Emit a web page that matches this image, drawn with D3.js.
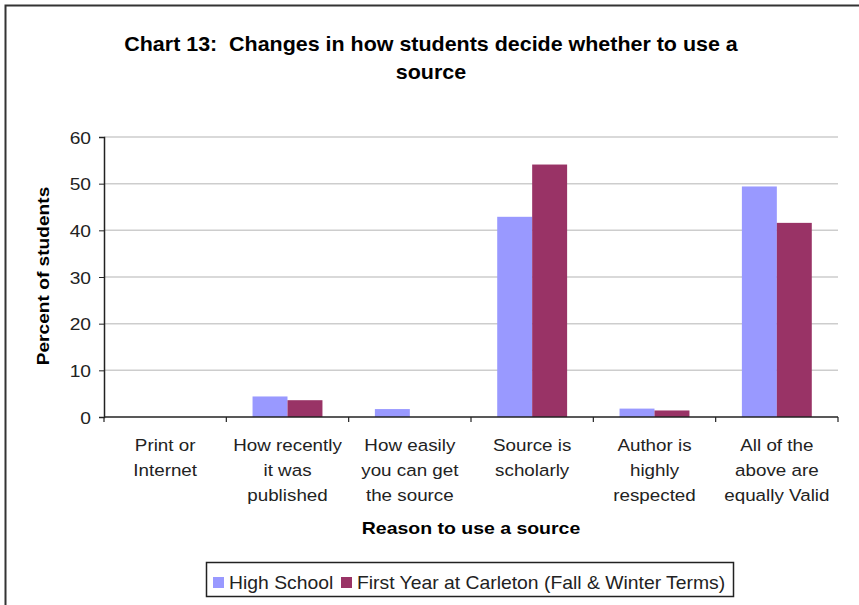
<!DOCTYPE html>
<html>
<head>
<meta charset="utf-8">
<script src="https://cdn.jsdelivr.net/npm/d3@7"></script>
<style>
  html, body { margin: 0; padding: 0; background: #fff; }
  svg { display: block; font-family: "Liberation Sans", Arial, sans-serif; }
  text { white-space: pre; }
</style>
</head>
<body>
<svg id="chart" width="859" height="605"></svg>
<script>
// Reasons for choosing a source (each split over lines)
const categories = [
  ["Print or", "Internet"],
  ["How recently", "it was", "published"],
  ["How easily", "you can get", "the source"],
  ["Source is", "scholarly"],
  ["Author is", "highly", "respected"],
  ["All of the", "above are", "equally Valid"]
];
const seriesNames = ["High School", "First Year at Carleton (Fall & Winter Terms)"];
const highSchool = [0, 4.4, 1.7, 42.9, 1.8, 49.4];
const firstYear  = [0, 3.6, 0, 54.1, 1.4, 41.6];
const yTicks = [0, 10, 20, 30, 40, 50, 60];
const colors = ["#9999FF", "#993366"];

const svg = d3.select("#chart");
const plot = { left: 104, right: 838, top: 137, bottom: 417 };

// Text drawn with a slight horizontal widening, one tspan per line
function wideText(parent, tx, ty, sx, lines, opts) {
  const g = parent.append("g").attr("transform", `translate(${tx},${ty})${opts.rotate ? " rotate(" + opts.rotate + ")" : ""} scale(${sx},1)`);
  const t = g.append("text")
    .attr("text-anchor", opts.anchor || "middle")
    .attr("font-size", opts.size)
    .attr("font-weight", opts.bold ? "bold" : "normal")
    .attr("fill", opts.fill || "#222");
  lines.forEach((line, k) => {
    t.append("tspan").attr("x", 0).attr("y", k * (opts.lineHeight || 0)).text(line);
  });
  return g;
}

// frame edges (top and left)
svg.append("path")
  .attr("d", "M5.5,605 L5.5,5.5 L859,5.5")
  .attr("fill", "none").attr("stroke", "#333").attr("stroke-width", 2);

// title
wideText(svg, 431, 51, 1.1, ["Chart 13:  Changes in how students decide whether to use a", "source"],
  { size: 19.5, bold: true, fill: "#000", lineHeight: 28 });

const idx = d3.range(categories.length);
const x = d3.scaleBand().domain(idx).range([plot.left, plot.right]).paddingInner(0).paddingOuter(0);
const barW = x.bandwidth() / 3.5;
const y = d3.scaleLinear().domain([0, 60]).range([plot.bottom, plot.top]);

// gridlines
svg.append("g").selectAll("line").data(yTicks.filter(t => t > 0)).join("line")
  .attr("x1", plot.left).attr("x2", plot.right)
  .attr("y1", d => y(d)).attr("y2", d => y(d))
  .attr("stroke", "#cdcdcd").attr("stroke-width", 1.5);

// bars
const series = [highSchool, firstYear];
series.forEach((vals, s) => {
  svg.append("g").selectAll("rect").data(idx).join("rect")
    .attr("x", i => x(i) + barW * 0.75 + s * barW)
    .attr("width", barW)
    .attr("y", i => y(vals[i]))
    .attr("height", i => y(0) - y(vals[i]))
    .attr("fill", colors[s]);
});

// y axis
const yAxis = svg.append("g").attr("transform", `translate(${plot.left},0)`)
  .call(d3.axisLeft(y).tickValues(yTicks).tickSize(5).tickPadding(6));
yAxis.select(".domain").attr("stroke", "#222").attr("stroke-width", 1.5);
yAxis.selectAll(".tick line").attr("stroke", "#222");
yAxis.selectAll(".tick text").remove();
yAxis.selectAll(".tick").each(function(d) {
  wideText(d3.select(this), -13, 6, 1.2, [String(d)], { size: 16, anchor: "end" });
});

// x axis with ticks at category boundaries
const xAxisG = svg.append("g");
xAxisG.append("line")
  .attr("x1", plot.left).attr("x2", plot.right)
  .attr("y1", y(0)).attr("y2", y(0))
  .attr("stroke", "#222").attr("stroke-width", 1.5);
xAxisG.selectAll("line.tick").data(d3.range(categories.length + 1)).join("line")
  .attr("class", "tick")
  .attr("x1", i => plot.left + i * x.step()).attr("x2", i => plot.left + i * x.step())
  .attr("y1", y(0)).attr("y2", y(0) + 5)
  .attr("stroke", "#222").attr("stroke-width", 1.2);

// category labels
idx.forEach(i => {
  wideText(svg, x(i) + x.bandwidth() / 2, 451, 1.14, categories[i], { size: 16.5, lineHeight: 25 });
});

// axis titles
wideText(svg, 471, 534, 1.18, ["Reason to use a source"], { size: 16.5, bold: true, fill: "#000" });
wideText(svg, 49, (plot.top + plot.bottom) / 2 - 1, 1.16, ["Percent of students"],
  { size: 16.5, bold: true, fill: "#000", rotate: -90 });

// legend
const legend = svg.append("g");
legend.append("rect").attr("x", 206.5).attr("y", 562.5).attr("width", 527).attr("height", 34)
  .attr("fill", "#fff").attr("stroke", "#222").attr("stroke-width", 1.5);
const legendItems = [{ x: 213, name: seriesNames[0] }, { x: 341, name: seriesNames[1] }];
legendItems.forEach((d, s) => {
  legend.append("rect").attr("x", d.x).attr("y", 577).attr("width", 11).attr("height", 11)
    .attr("fill", colors[s]);
  wideText(legend, d.x + 16, 589, 1.075, [d.name], { size: 18, anchor: "start" });
});
</script>
</body>
</html>
